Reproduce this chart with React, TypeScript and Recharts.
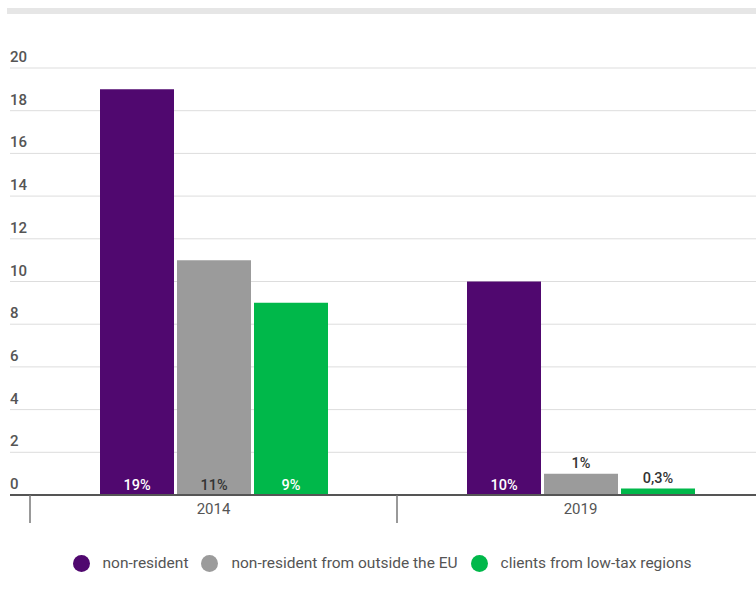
import { BarChart, Bar, XAxis, YAxis, CartesianGrid, LabelList } from "recharts";

const categories = ["2014", "2019"];
const nonResident = [19, 10];
const outsideEU = [11, 1];
const lowTax = [9, 0.3];
const nonResidentLabels = ["19%", "10%"];
const outsideEULabels = ["11%", "1%"];
const lowTaxLabels = ["9%", "0,3%"];
const yTicks = [0, 2, 4, 6, 8, 10, 12, 14, 16, 18, 20];

const series = [
  { key: "nonResident", name: "non-resident", color: "#50086f", labels: nonResidentLabels, inside: "#ffffff" },
  { key: "outsideEU", name: "non-resident from outside the EU", color: "#9b9b9b", labels: outsideEULabels, inside: "#333333" },
  { key: "lowTax", name: "clients from low-tax regions", color: "#00b84a", labels: lowTaxLabels, inside: "#ffffff" },
];

const data = categories.map((year, i) => ({
  year,
  nonResident: nonResident[i],
  outsideEU: outsideEU[i],
  lowTax: lowTax[i],
}));

const FONT = "Roboto, 'Noto Sans', sans-serif";
const CHART_W = 770;
const MARGIN = { top: 68, right: 6, left: 9, bottom: 80 };
const Y_W = 1;
const X_PAD_LEFT = 20;
// half of a category band, used to draw the separators between years
const HALF_BAND =
  (CHART_W - MARGIN.left - Y_W - MARGIN.right - X_PAD_LEFT) / categories.length / 2;

function YTick({ y, payload }: any) {
  return (
    <text x={10} y={y - 6} fill="#555" fontSize={15} fontWeight={500} fontFamily={FONT} textAnchor="start">
      {payload.value}
    </text>
  );
}

function XTick({ x, y, payload }: any) {
  return (
    <g>
      <line x1={x - HALF_BAND} x2={x - HALF_BAND} y1={y} y2={y + 28} stroke="#777" strokeWidth={1.5} />
      <text x={x} y={y + 14} fill="#555" fontSize={15} fontFamily={FONT} textAnchor="middle" dominantBaseline="central">
        {payload.value}
      </text>
    </g>
  );
}

function makeLabel(labels: string[], insideColor: string) {
  return (props: any) => {
    const { x, y, width, height, index } = props;
    const inside = height > 25;
    return (
      <text
        x={x + width / 2}
        y={inside ? y + height - 10 : y - 10}
        fill={inside ? insideColor : "#333"}
        fontSize={14.5}
        fontWeight={500}
        fontFamily={FONT}
        textAnchor="middle"
        dominantBaseline="central"
      >
        {labels[index]}
      </text>
    );
  };
}

function LegendBlock() {
  return (
    <div
      style={{
        position: "absolute",
        top: 553,
        left: 0,
        width: 756,
        display: "flex",
        justifyContent: "center",
        gap: 13,
        fontFamily: FONT,
        fontSize: 15.5,
        color: "#555",
        paddingLeft: 8,
        boxSizing: "border-box",
      }}
    >
      {series.map((s) => (
        <div key={s.key} style={{ display: "flex", alignItems: "center", height: 20 }}>
          <span style={{ width: 17, height: 17, borderRadius: "50%", background: s.color, display: "inline-block", marginRight: 13 }} />
          <span>{s.name}</span>
        </div>
      ))}
    </div>
  );
}

export default function App() {
  return (
    <div style={{ position: "absolute", left: 0, top: 0, width: 756, height: 605, overflow: "hidden", background: "#fff" }}>
      <div style={{ position: "absolute", left: 7, top: 8, width: 749, height: 6, background: "#e6e6e6" }} />
      <BarChart width={CHART_W} height={605} data={data} margin={MARGIN} barGap={3} barCategoryGap={70}>
        <CartesianGrid horizontal vertical={false} stroke="#dddddd" />
        <YAxis
          domain={[0, 20]}
          ticks={yTicks}
          width={Y_W}
          axisLine={false}
          tickLine={false}
          tick={<YTick />}
        />
        <XAxis
          dataKey="year"
          padding={{ left: X_PAD_LEFT, right: 0 }}
          axisLine={{ stroke: "#555", strokeWidth: 2 }}
          tickLine={false}
          tickSize={0}
          tickMargin={0}
          height={30}
          tick={<XTick />}
        />
        {series.map((s) => (
          <Bar key={s.key} dataKey={s.key} name={s.name} fill={s.color} isAnimationActive={false}>
            <LabelList dataKey={s.key} content={makeLabel(s.labels, s.inside)} />
          </Bar>
        ))}
      </BarChart>
      <LegendBlock />
    </div>
  );
}
